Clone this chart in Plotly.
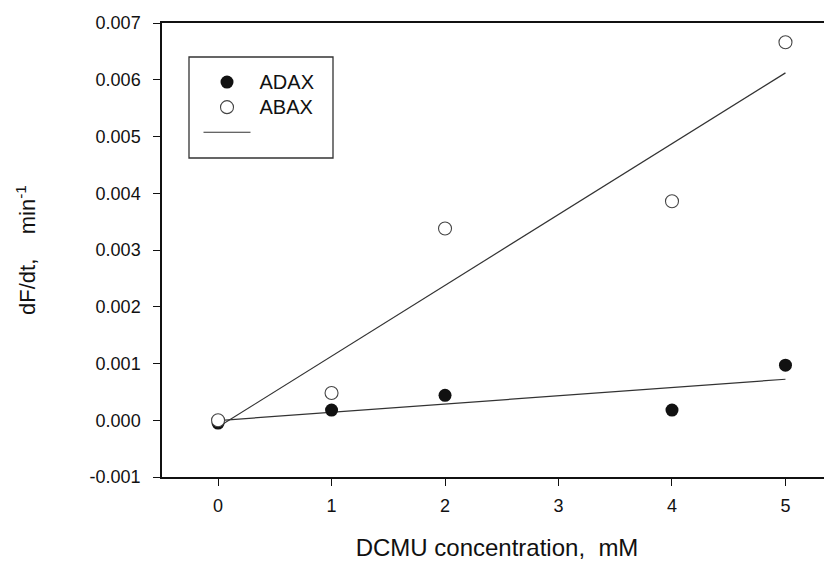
import numpy as np
import plotly.graph_objects as go

dcmu = [0, 1, 2, 4, 5]
adax = [-0.00005, 0.00018, 0.00044, 0.00018, 0.00097]
abax = [0.0, 0.00048, 0.00338, 0.00386, 0.00666]
x_ticks = [0, 1, 2, 3, 4, 5]
y_ticks = [-0.001, 0.0, 0.001, 0.002, 0.003, 0.004, 0.005, 0.006, 0.007]
y_ticklabels = ["-0.001", "0.000", "0.001", "0.002", "0.003", "0.004", "0.005", "0.006", "0.007"]

FONT = "Liberation Sans, Arial, sans-serif"
INK = "#111111"

# page body has an 8px margin: figure drawn 8px in from the top-left
W, H = 824, 553
ML, MT, MB = 154, 15, 84
PW, PH = W - ML, H - MT - MB


def px(xs):  # screen x -> paper
    return (xs - 8 - ML) / PW


def py(ys):  # screen y -> paper
    return 1 - (ys - 8 - MT) / PH


fit_x = [min(dcmu), max(dcmu)]
fig = go.Figure()

# regression lines first so the markers sit on top
first = True
for ys in [adax, abax]:
    k, b = np.polyfit(dcmu, ys, 1)
    fig.add_trace(go.Scatter(
        x=fit_x, y=[k * v + b for v in fit_x], mode="lines",
        line=dict(color="#333333", width=1.2),
        name="\u00a0", showlegend=first, legendrank=3,
    ))
    first = False

for rank, (ys, filled, name) in enumerate([(adax, True, "ADAX"), (abax, False, "ABAX")], start=1):
    fig.add_trace(go.Scatter(
        x=dcmu, y=ys, mode="markers", legendrank=rank,
        name='<span style="font-size:20px">\u2009%s</span>' % name,
        marker=dict(symbol="circle", size=13,
                    color=INK if filled else "white",
                    line=dict(color=INK if filled else "#444444", width=0 if filled else 1.1)),
        cliponaxis=False,
    ))

# legend frame
fig.add_shape(type="rect", xref="paper", yref="paper",
              x0=px(189), x1=px(333), y0=py(158), y1=py(57),
              line=dict(color="#333333", width=1.3), fillcolor="rgba(0,0,0,0)")

fig.update_layout(
    width=W, height=H,
    margin=dict(l=ML, r=0, t=MT, b=MB, autoexpand=False),
    paper_bgcolor="white", plot_bgcolor="white",
    font=dict(family=FONT, size=16, color=INK),
    showlegend=True,
    legend=dict(x=px(198.5), y=py(64.5), xanchor="left", yanchor="top",
                bgcolor="rgba(0,0,0,0)", borderwidth=0,
                font=dict(family=FONT, size=17, color=INK),
                tracegroupgap=0, itemwidth=47, traceorder="normal"),
    xaxis=dict(range=[-0.494, 5.41], tickvals=x_ticks, ticks="outside", ticklen=7,
               tickwidth=1.2, tickcolor=INK, showline=True, linecolor=INK, linewidth=1.5,
               mirror=True, showgrid=False, zeroline=False, ticklabelstandoff=5,
               tickfont=dict(size=18, family=FONT, color=INK),
               title=dict(text="\u00a0DCMU concentration,\u00a0\u00a0mM", font=dict(size=24, family=FONT, color=INK),
                          standoff=26)),
    yaxis=dict(range=[-0.001, 0.007], tickvals=y_ticks, ticktext=y_ticklabels, ticks="outside",
               ticklen=7, tickwidth=1.2, tickcolor=INK, showline=True, linecolor=INK, linewidth=1.5,
               showgrid=False, zeroline=False, ticklabelstandoff=9,
               tickfont=dict(size=18, family=FONT, color=INK),
               title=dict(text="dF/dt,\u00a0\u00a0\u00a0\u00a0min<sup>-1</sup>", font=dict(size=22, family=FONT, color=INK),
                          standoff=48)),
)

fig.write_html("out.html")
